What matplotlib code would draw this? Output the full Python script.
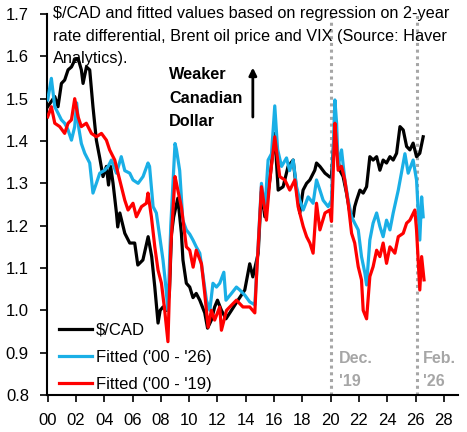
import matplotlib
matplotlib.use("Agg")
import matplotlib.pyplot as plt

plt.rcParams['font.family'] = ['Liberation Sans', 'DejaVu Sans']

# time in years since Jan 2000
cad_t = [0.0, 0.5, 0.73, 0.97, 1.2, 1.44, 1.68, 1.91, 2.15, 2.38, 2.5, 2.74, 2.97, 3.2, 3.44,
         3.68, 3.91, 4.15, 4.3, 4.45, 4.62, 4.86, 4.95, 5.1, 5.45, 5.8, 6.15, 6.37, 6.73, 7.1,
         7.35, 7.57, 7.8, 7.95, 8.15, 8.4, 8.6, 8.75, 8.9, 9.2, 9.45, 9.56, 9.8, 10.04, 10.27,
         10.5, 10.75, 11.1, 11.3, 11.57, 11.8, 12.0, 12.28, 12.6, 12.99, 13.45, 13.93, 14.28,
         14.5, 14.88, 15.1, 15.35, 15.7, 16.05, 16.29, 16.64, 16.99, 17.35, 17.59, 17.82, 18.05,
         18.3, 18.53, 18.88, 19.0, 19.24, 19.6, 19.94, 20.06, 20.25, 20.4, 20.65, 20.88, 21.12,
         21.36, 21.6, 21.7, 21.83, 22.07, 22.3, 22.54, 22.77, 23.0, 23.25, 23.48, 23.71, 23.95,
         24.19, 24.42, 24.66, 24.9, 25.13, 25.37, 25.6, 25.83, 26.07, 26.3, 26.54]
cad = [1.481, 1.505, 1.481, 1.536, 1.544, 1.568, 1.575, 1.591, 1.595, 1.568, 1.536, 1.575, 1.568,
       1.481, 1.402, 1.36, 1.316, 1.34, 1.296, 1.34, 1.30, 1.23, 1.197, 1.23, 1.182, 1.159, 1.159,
       1.107, 1.119, 1.174, 1.127, 1.055, 0.97, 1.0, 1.008, 1.0, 1.04, 1.18, 1.22, 1.265, 1.182,
       1.119, 1.064, 1.055, 1.03, 1.04, 1.024, 0.994, 0.958, 0.977, 1.008, 1.024, 1.0, 0.98, 1.0,
       1.024, 1.048, 1.11, 1.079, 1.135, 1.28, 1.221, 1.308, 1.418, 1.284, 1.292, 1.34, 1.355,
       1.284, 1.23, 1.284, 1.30, 1.308, 1.331, 1.348, 1.34, 1.324, 1.315, 1.316, 1.41, 1.38,
       1.331, 1.316, 1.277, 1.23, 1.221, 1.245, 1.26, 1.284, 1.277, 1.292, 1.363, 1.355, 1.363,
       1.331, 1.355, 1.348, 1.363, 1.355, 1.371, 1.434, 1.426, 1.387, 1.379, 1.395, 1.363, 1.371,
       1.41]

fit26_t = [0.0, 0.26, 0.5, 0.73, 0.97, 1.2, 1.44, 1.68, 1.91, 2.05, 2.2, 2.38, 2.62, 2.97, 3.2,
           3.44, 3.68, 4.03, 4.27, 4.5, 4.86, 5.2, 5.45, 5.8, 6.03, 6.39, 6.74, 7.09, 7.2, 7.45,
           7.68, 7.92, 8.15, 8.35, 8.5, 8.7, 9.0, 9.1, 9.33, 9.55, 9.8, 10.04, 10.27, 10.5, 10.75,
           10.99, 11.22, 11.46, 11.68, 11.93, 12.16, 12.45, 12.6, 12.99, 13.34, 13.58, 13.93,
           14.28, 14.64, 14.87, 15.11, 15.35, 15.58, 15.82, 16.05, 16.25, 16.53, 16.88, 17.1,
           17.35, 17.59, 17.82, 18.06, 18.41, 18.76, 19.0, 19.24, 19.47, 19.82, 20.06, 20.3,
           20.42, 20.53, 20.77, 21.0, 21.24, 21.48, 21.7, 21.95, 22.18, 22.42, 22.54, 22.77, 23.0,
           23.25, 23.48, 23.71, 23.95, 24.19, 24.42, 24.78, 25.0, 25.25, 25.48, 25.83, 26.07,
           26.3, 26.43, 26.54]
fit26 = [1.497, 1.548, 1.481, 1.466, 1.45, 1.442, 1.426, 1.402, 1.434, 1.49, 1.43, 1.394, 1.371,
         1.348, 1.277, 1.30, 1.324, 1.331, 1.34, 1.355, 1.324, 1.363, 1.33, 1.324, 1.308, 1.30,
         1.316, 1.348, 1.34, 1.245, 1.23, 1.174, 1.119, 1.056, 1.0, 1.2, 1.394, 1.38, 1.33, 1.213,
         1.19, 1.18, 1.166, 1.15, 1.135, 1.08, 1.024, 1.0, 1.064, 1.055, 1.064, 1.09, 1.024, 1.04,
         1.055, 1.048, 1.036, 1.02, 1.013, 1.15, 1.30, 1.237, 1.355, 1.37, 1.483, 1.38, 1.34,
         1.36, 1.33, 1.355, 1.292, 1.26, 1.237, 1.268, 1.253, 1.308, 1.284, 1.26, 1.245, 1.26,
         1.497, 1.442, 1.34, 1.379, 1.308, 1.26, 1.221, 1.206, 1.19, 1.127, 1.088, 1.06, 1.166,
         1.206, 1.23, 1.198, 1.174, 1.213, 1.19, 1.23, 1.284, 1.324, 1.37, 1.324, 1.355, 1.308,
         1.166, 1.268, 1.221]

fit19_t = [0.0, 0.26, 0.5, 0.85, 1.2, 1.44, 1.68, 1.91, 2.15, 2.38, 2.73, 3.09, 3.44, 3.8, 4.15,
           4.38, 4.74, 4.97, 5.21, 5.45, 5.68, 6.03, 6.27, 6.63, 6.98, 7.09, 7.33, 7.57, 7.8,
           8.04, 8.27, 8.5, 8.7, 9.0, 9.1, 9.45, 9.8, 10.04, 10.28, 10.5, 10.87, 11.1, 11.34,
           11.57, 11.8, 12.16, 12.28, 12.64, 12.87, 13.34, 13.8, 14.28, 14.64, 14.76, 15.11,
           15.46, 15.7, 16.05, 16.4, 16.76, 17.11, 17.47, 17.7, 18.06, 18.3, 18.53, 18.76, 19.0,
           19.24, 19.6, 19.94, 20.06, 20.3, 20.42, 20.53, 20.77, 21.0, 21.24, 21.48, 21.7, 21.95,
           22.18, 22.3, 22.54, 22.77, 23.0, 23.25, 23.48, 23.71, 23.95, 24.19, 24.54, 24.78,
           25.13, 25.37, 25.6, 25.95, 26.07, 26.3, 26.43, 26.6]
fit19 = [1.457, 1.481, 1.442, 1.434, 1.418, 1.442, 1.45, 1.5, 1.457, 1.434, 1.442, 1.418, 1.41,
         1.418, 1.402, 1.379, 1.355, 1.324, 1.292, 1.26, 1.237, 1.253, 1.221, 1.245, 1.253, 1.277,
         1.221, 1.15, 1.095, 1.064, 1.0, 0.926, 1.15, 1.316, 1.30, 1.244, 1.15, 1.142, 1.102,
         1.142, 1.11, 1.04, 0.96, 1.0, 0.977, 1.008, 0.953, 1.0, 1.008, 1.024, 1.008, 1.008,
         0.994, 1.08, 1.292, 1.213, 1.308, 1.41, 1.316, 1.308, 1.284, 1.308, 1.245, 1.198, 1.174,
         1.159, 1.135, 1.253, 1.19, 1.23, 1.237, 1.21, 1.442, 1.387, 1.331, 1.34, 1.308, 1.253,
         1.182, 1.159, 1.103, 1.072, 1.0, 0.98, 1.08, 1.103, 1.142, 1.127, 1.159, 1.111, 1.15,
         1.135, 1.174, 1.182, 1.206, 1.213, 1.237, 1.19, 1.048, 1.127, 1.072]

x_ticks = list(range(0, 30, 2))
x_labels = ['%02d' % t for t in x_ticks]
y_ticks = [0.8, 0.9, 1.0, 1.1, 1.2, 1.3, 1.4, 1.5, 1.6, 1.7]
markers_t = [20.0, 26.1]
marker_text = ["Dec.\n'19", "Feb.\n'26"]
title_lines = ["$/CAD and fitted values based on regression on 2-year",
               "rate differential, Brent oil price and VIX (Source: Haver",
               "Analytics)."]

fig = plt.figure(figsize=(4.67, 4.32), dpi=100)
ax = fig.add_axes([0.1006, 0.0856, 0.8801, 0.882])

for t in markers_t:
    ax.axvline(t, color='#A6A6A6', linestyle=(0, (1, 1.2)), linewidth=2.2, zorder=1)

ax.plot(cad_t, cad, color='black', linewidth=2.3, label='$/CAD', zorder=3)
ax.plot(fit26_t, fit26, color='#1AAFE6', linewidth=2.3, label="Fitted ('00 - '26)", zorder=4)
ax.plot(fit19_t, fit19, color='#FF0000', linewidth=2.3, label="Fitted ('00 - '19)", zorder=5)

ax.set_xlim(-0.05, 29.0)
ax.set_ylim(0.8, 1.7)
ax.set_xticks(x_ticks)
ax.set_xticklabels(x_labels)
ax.set_yticks(y_ticks)
ax.set_yticklabels(['%.1f' % v for v in y_ticks])
ax.tick_params(labelsize=12, length=5, width=1.2, color='black', pad=8)
for s in ['top', 'right']:
    ax.spines[s].set_visible(False)
for s in ['left', 'bottom']:
    ax.spines[s].set_linewidth(1.5)

for i, line in enumerate(title_lines):
    ax.text(0.4, 1.700 - i * 0.052, line, fontsize=11.7, va='center', ha='left')
ax.text(8.6, 1.575, "Weaker\nCanadian\nDollar", fontsize=11.7, fontweight='bold',
        va='top', ha='left', linespacing=1.72)
ax.annotate('', xy=(14.5, 1.58), xytext=(14.5, 1.45),
            arrowprops=dict(arrowstyle='-|>', color='black', lw=2, mutation_scale=11))

for t, s, dx in zip(markers_t, marker_text, [0.6, 0.45]):
    ax.text(t + dx, 0.903, s, fontsize=11.5, fontweight='bold', color='#A6A6A6',
            va='top', ha='left', linespacing=1.6)

ax.legend(loc='lower left', bbox_to_anchor=(0.0, -0.022), frameon=False, fontsize=12,
          handlelength=2.0, handletextpad=0.25, labelspacing=0.72, borderaxespad=0.3)

fig.savefig('out.png', dpi=100)
